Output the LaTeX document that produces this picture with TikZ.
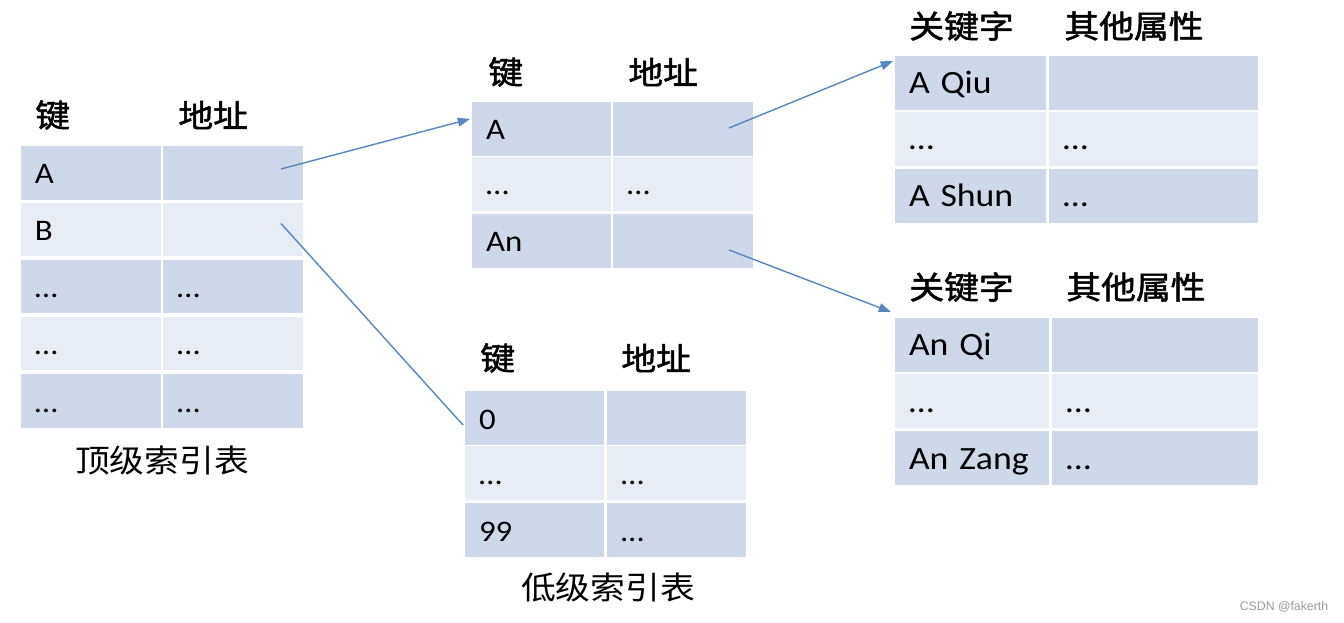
\documentclass[tikz,border=0pt]{standalone}
\usepackage{fontspec}
\setmainfont{Carlito}
\newfontfamily\cellfont[FakeStretch=1.1]{Carlito}
\newfontfamily\cjk[FakeStretch=1.1]{Noto Sans CJK SC}
\newfontfamily\cjkhead[FakeStretch=1.1, FakeBold=1.6]{Noto Sans CJK SC}
\newfontfamily\markfont{Liberation Sans}
\usepackage{tikz}
\usetikzlibrary{arrows.meta}
\definecolor{celldark}{RGB}{207,216,232}
\definecolor{celllight}{RGB}{232,237,245}
\definecolor{linkblue}{RGB}{88,134,190}
\tikzset{
  cell/.style={anchor=north west, inner xsep=0.28cm, inner ysep=0pt, outer sep=0pt,
    text width=#1, align=left, minimum height=1.08cm, text height=0.5cm, text depth=0.06cm},
  darkrow/.style={fill=celldark},
  lightrow/.style={fill=celllight},
  smalltxt/.style={font=\cellfont\fontsize{17}{19}\selectfont},
  bigtxt/.style={font=\cellfont\fontsize{18.5}{21}\selectfont},
  head/.style={anchor=west, inner sep=0pt, font=\cjkhead\fontsize{18}{20}\selectfont},
  captext/.style={inner sep=0pt, font=\cjk\fontsize{18}{20}\selectfont},
  link/.style={draw=linkblue, line width=0.8pt, -{Triangle[length=7pt,width=5pt]}}
}

\begin{document}
\begin{tikzpicture}[x=0.02cm, y=-0.02cm]
    \useasboundingbox (0,0) rectangle (1344,622);

    % top-level index
    \node[head] (h1k) at (35,115) {键};
    \node[head] (h1v) at (178,115) {地址};
    \node[cell=2.24cm, darkrow, smalltxt] (t1k1) at (21,146) {A};
    \node[cell=2.24cm, darkrow, smalltxt] (t1v1) at (163,146) {};
    \node[cell=2.24cm, lightrow, smalltxt] (t1k2) at (21,202.5) {B};
    \node[cell=2.24cm, lightrow, smalltxt] (t1v2) at (163,202.5) {};
    \node[cell=2.24cm, darkrow, smalltxt] (t1k3) at (21,259.5) {…};
    \node[cell=2.24cm, darkrow, smalltxt] (t1v3) at (163,259.5) {…};
    \node[cell=2.24cm, lightrow, smalltxt] (t1k4) at (21,316.5) {…};
    \node[cell=2.24cm, lightrow, smalltxt] (t1v4) at (163,316.5) {…};
    \node[cell=2.24cm, darkrow, smalltxt] (t1k5) at (21,374) {…};
    \node[cell=2.24cm, darkrow, smalltxt] (t1v5) at (163,374) {…};
    \node[captext] (cap1) at (162,460) {顶级索引表};

    % second level, key A
    \node[head] (h2k) at (488,72) {键};
    \node[head] (h2v) at (628,72) {地址};
    \node[cell=2.22cm, darkrow, smalltxt] (t2k1) at (472,102) {A};
    \node[cell=2.24cm, darkrow, smalltxt] (t2v1) at (613,102) {};
    \node[cell=2.22cm, lightrow, smalltxt] (t2k2) at (472,157) {…};
    \node[cell=2.24cm, lightrow, smalltxt] (t2v2) at (613,157) {…};
    \node[cell=2.22cm, darkrow, smalltxt] (t2k3) at (472,214) {An};
    \node[cell=2.24cm, darkrow, smalltxt] (t2v3) at (613,214) {};

    % low-level index
    \node[head] (h3k) at (480,358) {键};
    \node[head] (h3v) at (621,358) {地址};
    \node[cell=2.22cm, darkrow, smalltxt] (t3k1) at (465,391) {0};
    \node[cell=2.22cm, darkrow, smalltxt] (t3v1) at (607,391) {};
    \node[cell=2.22cm, lightrow, smalltxt] (t3k2) at (465,446) {…};
    \node[cell=2.22cm, lightrow, smalltxt] (t3v2) at (607,446) {…};
    \node[cell=2.22cm, darkrow, smalltxt] (t3k3) at (465,503) {99};
    \node[cell=2.22cm, darkrow, smalltxt] (t3v3) at (607,503) {…};
    \node[captext] (cap2) at (608,588) {低级索引表};

    % records A
    \node[head] (h4k) at (909,26) {关键字};
    \node[head] (h4v) at (1064,26) {其他属性};
    \node[cell=2.46cm, darkrow, bigtxt] (t4k1) at (895,56) {A Qiu};
    \node[cell=3.62cm, darkrow, bigtxt] (t4v1) at (1049,56) {};
    \node[cell=2.46cm, lightrow, bigtxt] (t4k2) at (895,112) {…};
    \node[cell=3.62cm, lightrow, bigtxt] (t4v2) at (1049,112) {…};
    \node[cell=2.46cm, darkrow, bigtxt] (t4k3) at (895,169) {A Shun};
    \node[cell=3.62cm, darkrow, bigtxt] (t4v3) at (1049,169) {…};

    % records An
    \node[head] (h5k) at (909,287) {关键字};
    \node[head] (h5v) at (1066,287) {其他属性};
    \node[cell=2.52cm, darkrow, bigtxt] (t5k1) at (895,318) {An Qi};
    \node[cell=3.56cm, darkrow, bigtxt] (t5v1) at (1052,318) {};
    \node[cell=2.52cm, lightrow, bigtxt] (t5k2) at (895,374) {…};
    \node[cell=3.56cm, lightrow, bigtxt] (t5v2) at (1052,374) {…};
    \node[cell=2.52cm, darkrow, bigtxt] (t5k3) at (895,431) {An Zang};
    \node[cell=3.56cm, darkrow, bigtxt] (t5v3) at (1052,431) {…};

    % links
    \draw[link] ([shift={(48,-4)}]t1v1.center) -- ([shift={(-2,-10)}]t2k1.west);
    \draw[draw=linkblue, line width=0.8pt] ([shift={(48,-6)}]t1v2.center) -- ([shift={(-2,7)}]t3k1.west);
    \draw[link] ([shift={(46,-1)}]t2v1.center) -- ([shift={(-2,5)}]t4k1.north west);
    \draw[link] ([shift={(46,9)}]t2v3.center) -- ([shift={(-4,-6)}]t5k1.north west);

    \node[text=gray!80, font=\markfont\fontsize{7}{8}\selectfont] (mark) at (1284,607) {CSDN @fakerth};
\end{tikzpicture}
\end{document}
